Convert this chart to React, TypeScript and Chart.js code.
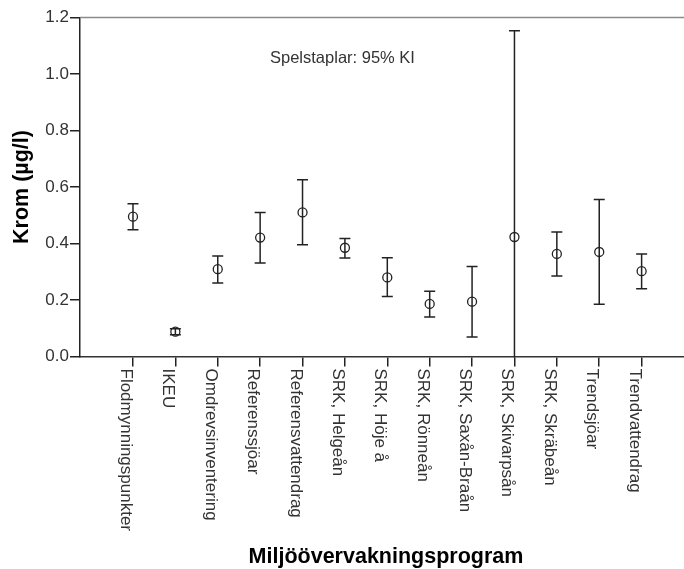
import { useEffect, useRef } from 'react';
import { Chart, registerables } from 'chart.js';

Chart.register(...registerables);

const categories = [
  'Flodmynningspunkter',
  'IKEU',
  'Omdrevsinventering',
  'Referenssjöar',
  'Referensvattendrag',
  'SRK, Helgeån',
  'SRK, Höje å',
  'SRK, Rönneån',
  'SRK, Saxån-Braån',
  'SRK, Skivarpsån',
  'SRK, Skräbeån',
  'Trendsjöar',
  'Trendvattendrag',
];
const means = [0.495, 0.088, 0.309, 0.421, 0.51, 0.385, 0.28, 0.186, 0.194, 0.423, 0.363, 0.37, 0.302];
const upper = [0.541, 0.098, 0.356, 0.51, 0.626, 0.418, 0.35, 0.231, 0.319, 1.153, 0.441, 0.556, 0.363];
const lower = [0.449, 0.077, 0.26, 0.331, 0.396, 0.349, 0.212, 0.14, 0.069, -0.307, 0.285, 0.185, 0.24];
const yTicks = [0, 0.2, 0.4, 0.6, 0.8, 1.0, 1.2];

const yTitle = 'Krom (µg/l)';
const xTitle = 'Miljöövervakningsprogram';
const note = 'Spelstaplar: 95% KI';

const FONT = "'Liberation Sans', Arial, Helvetica, sans-serif";
const INK = '#222';
const TEXT = '#333';

const errorBarPlugin = {
  id: 'errorBars',
  beforeDatasetsDraw(chart: any) {
    const { ctx, chartArea, scales } = chart;
    const xs = scales.x;
    const ys = scales.y;
    ctx.save();
    ctx.beginPath();
    ctx.rect(chartArea.left, chartArea.top - 2, chartArea.right - chartArea.left, chartArea.bottom - chartArea.top + 3);
    ctx.clip();
    ctx.strokeStyle = INK;
    ctx.lineWidth = 1.5;
    const cap = 5.5;
    categories.forEach((_, i) => {
      const x = xs.getPixelForValue(i);
      const yU = ys.getPixelForValue(upper[i]);
      const yL = ys.getPixelForValue(lower[i]);
      ctx.beginPath();
      ctx.moveTo(x, yU);
      ctx.lineTo(x, yL);
      ctx.moveTo(x - cap, yU);
      ctx.lineTo(x + cap, yU);
      ctx.moveTo(x - cap, yL);
      ctx.lineTo(x + cap, yL);
      ctx.stroke();
    });
    ctx.restore();
  },
  afterDraw(chart: any) {
    const { ctx, chartArea, scales } = chart;
    const xs = scales.x;
    ctx.save();
    // top frame line
    ctx.strokeStyle = '#8a8a8a';
    ctx.lineWidth = 1.5;
    ctx.beginPath();
    ctx.moveTo(chartArea.left, chartArea.top);
    ctx.lineTo(chartArea.right, chartArea.top);
    ctx.stroke();

    // x category labels, rotated clockwise
    ctx.fillStyle = TEXT;
    ctx.font = `17px ${FONT}`;
    ctx.textAlign = 'left';
    ctx.textBaseline = 'alphabetic';
    categories.forEach((label, i) => {
      const x = xs.getPixelForValue(i);
      ctx.save();
      ctx.translate(x - 12, chartArea.bottom + 12);
      ctx.rotate(Math.PI / 2);
      ctx.fillText(label, 0, 0);
      ctx.restore();
    });

    // titles
    ctx.fillStyle = '#000';
    ctx.font = `bold 21.5px ${FONT}`;
    ctx.textAlign = 'center';
    ctx.textBaseline = 'middle';
    ctx.save();
    ctx.translate(22, (chartArea.top + chartArea.bottom) / 2);
    ctx.rotate(-Math.PI / 2);
    ctx.fillText(yTitle, 0, 0);
    ctx.restore();

    ctx.textBaseline = 'alphabetic';
    ctx.fillText(xTitle, (chartArea.left + chartArea.right) / 2 + 4, 563);

    // note
    ctx.fillStyle = TEXT;
    ctx.font = `16.5px ${FONT}`;
    ctx.textAlign = 'left';
    ctx.fillText(note, 270, 63);
    ctx.restore();
  },
};

export default function App() {
  const canvasRef = useRef<HTMLCanvasElement | null>(null);

  useEffect(() => {
    if (!canvasRef.current) return;
    const chart = new Chart(canvasRef.current, {
      type: 'scatter',
      data: {
        datasets: [
          {
            data: means.map((m, i) => ({ x: i, y: m })),
            pointRadius: 4.5,
            pointHoverRadius: 4.5,
            pointBorderColor: INK,
            pointBackgroundColor: 'rgba(255,255,255,0)',
            pointBorderWidth: 1.3,
            showLine: false,
          },
        ],
      },
      options: {
        responsive: false,
        animation: false,
        events: [],
        layout: { autoPadding: false, padding: { top: 17.5, right: 0, left: 0, bottom: 0 } },
        plugins: {
          legend: { display: false },
          tooltip: { enabled: false },
          title: { display: false },
        },
        scales: {
          x: {
            type: 'linear',
            min: -1.25,
            max: 13,
            afterBuildTicks: (s: any) => {
              s.ticks = categories.map((_, i) => ({ value: i }));
            },
            afterFit: (s: any) => {
              s.height = 212.5;
              s.paddingLeft = 0;
              s.paddingRight = 0;
            },
            ticks: { display: false, autoSkip: false },
            grid: { drawOnChartArea: false, drawTicks: true, tickLength: 10, color: INK, lineWidth: 1.5 },
            border: { display: true, color: '#333', width: 1.5 },
          },
          y: {
            type: 'linear',
            min: 0,
            max: 1.2,
            afterBuildTicks: (s: any) => {
              s.ticks = yTicks.map((v) => ({ value: v }));
            },
            afterFit: (s: any) => {
              s.width = 80;
              s.paddingTop = 0;
              s.paddingBottom = 0;
            },
            ticks: {
              callback: (v: any) => Number(v).toFixed(1),
              font: { family: FONT, size: 17 },
              color: TEXT,
              padding: 1,
            },
            grid: { drawOnChartArea: false, drawTicks: true, tickLength: 10, color: INK, lineWidth: 1.5 },
            border: { display: true, color: INK, width: 1.5 },
          },
        },
      },
      plugins: [errorBarPlugin],
    });
    return () => chart.destroy();
  }, []);

  return (
    <div style={{ position: 'absolute', left: 0, top: 0, width: 684, height: 569, background: '#fff' }}>
      <canvas ref={canvasRef} width={684} height={569} />
    </div>
  );
}
